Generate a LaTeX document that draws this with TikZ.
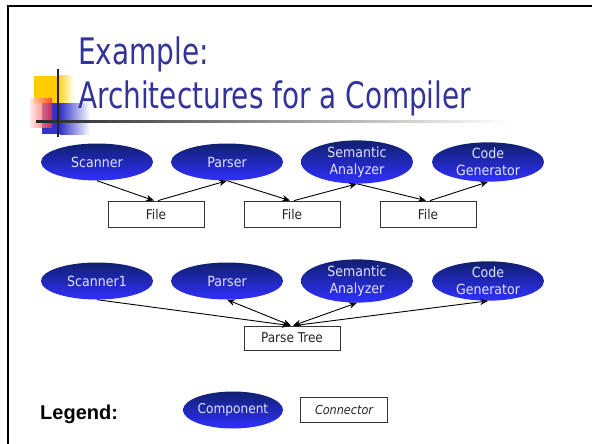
\documentclass[tikz,border=0pt]{standalone}
\usepackage{fontspec}
\setmainfont{DejaVu Sans Condensed}
\newfontfamily\legendfont{Liberation Sans}
\usetikzlibrary{shapes.geometric,arrows.meta}
\definecolor{titleblue}{RGB}{51,51,153}
\definecolor{ellTop}{RGB}{16,32,110}
\definecolor{ellBot}{RGB}{48,48,255}
\definecolor{ellText}{RGB}{225,225,255}
\definecolor{yellowdec}{RGB}{255,204,0}
\definecolor{bluedec}{RGB}{51,51,204}
\definecolor{reddec}{RGB}{255,40,40}
\begin{document}
\begin{tikzpicture}[x=1pt,y=-1pt,
  comp/.style={ellipse, minimum width=112pt, minimum height=37pt, inner sep=0pt,
    top color=ellTop, bottom color=ellBot, draw=none, text=ellText,
    font=\fontsize{14}{17}\selectfont, align=center},
  conn/.style={draw=black!80, line width=0.8pt, fill=white, minimum width=96pt,
    minimum height=26pt, inner sep=0pt, font=\fontsize{13.5}{15}\selectfont, text=black!85},
  arr/.style={-{Stealth[length=8pt,width=6.5pt]}, line width=0.9pt},
  barr/.style={{Stealth[length=8pt,width=6.5pt]}-{Stealth[length=8pt,width=6.5pt]}, line width=0.9pt},
  titletext/.style={anchor=base west, text=titleblue, inner sep=0pt, font=\fontsize{36.5}{40}\selectfont}]
\useasboundingbox (0,0) rectangle (592,444);
\fill[white] (0,0) rectangle (592,444);
% slide border
\draw[line width=2pt] (8,444) -- (8,6) -- (592,6);
% decoration
\fill[yellowdec] (34,76) rectangle (57,103);
\shade[left color=yellowdec, right color=white] (57,76) rectangle (74,103);
\fill[bluedec] (42,103) rectangle (60,134);
\shade[left color=bluedec, right color=white] (60,103) rectangle (90,134);
\shade[left color=reddec!15!white, right color=reddec, opacity=0.75] (30,99) rectangle (52,127);
\shade[left color=black!85, right color=white] (36,120) rectangle (510,122.5);
\draw[line width=2pt, black!85] (58,69) -- (58,137);
% title
\node[titletext] (t1) at (78,65) {\scalebox{0.85}[1]{Example:}};
\node[titletext] (t2) at (78,108) {\scalebox{0.85}[1]{Architectures for a Compiler}};
% row 1
\node[comp] (s1) at (97,162) {Scanner};
\node[comp] (p1) at (227,162) {Parser};
\node[comp] (a1) at (357,162) {Semantic\\Analyzer};
\node[comp] (c1) at (488,162) {Code\\Generator};
\node[conn] (f1) at (156,214) {File};
\node[conn] (f2) at (292,214) {File};
\node[conn] (f3) at (428,214) {File};
\draw[arr] (s1.south) -- ([xshift=-2pt]f1.north);
\draw[arr] ([xshift=2pt]f1.north) -- (p1.south);
\draw[arr] (p1.south) -- ([xshift=-2pt]f2.north);
\draw[arr] ([xshift=2pt]f2.north) -- (a1.south);
\draw[arr] (a1.south) -- ([xshift=-2pt]f3.north);
\draw[arr] ([xshift=2pt]f3.north) -- (c1.south);
% row 2
\node[comp] (s2) at (97,281) {Scanner1};
\node[comp] (p2) at (227,281) {Parser};
\node[comp] (a2) at (357,281) {Semantic\\Analyzer};
\node[comp] (c2) at (488,281) {Code\\Generator};
\node[conn, minimum height=24pt] (pt) at (292,338) {Parse Tree};
\draw[arr] (s2.south) -- ([xshift=-2pt]pt.north);
\draw[barr] (p2.south) -- ([xshift=-1pt]pt.north);
\draw[barr] (a2.south) -- ([xshift=1pt]pt.north);
\draw[arr] ([xshift=2pt]pt.north) -- (c2.south);
% legend
\node[anchor=base west, inner sep=0pt, font=\legendfont\bfseries\fontsize{20}{24}\selectfont] (leg) at (40,419) {Legend:};
\node[comp, minimum width=100pt, font=\fontsize{13.5}{16}\selectfont] (lc) at (233,410) {Component};
\node[conn, minimum width=87pt, minimum height=25pt, font=\itshape\fontsize{12.5}{15}\selectfont] (lk) at (344,410) {Connector};
\end{tikzpicture}
\end{document}
